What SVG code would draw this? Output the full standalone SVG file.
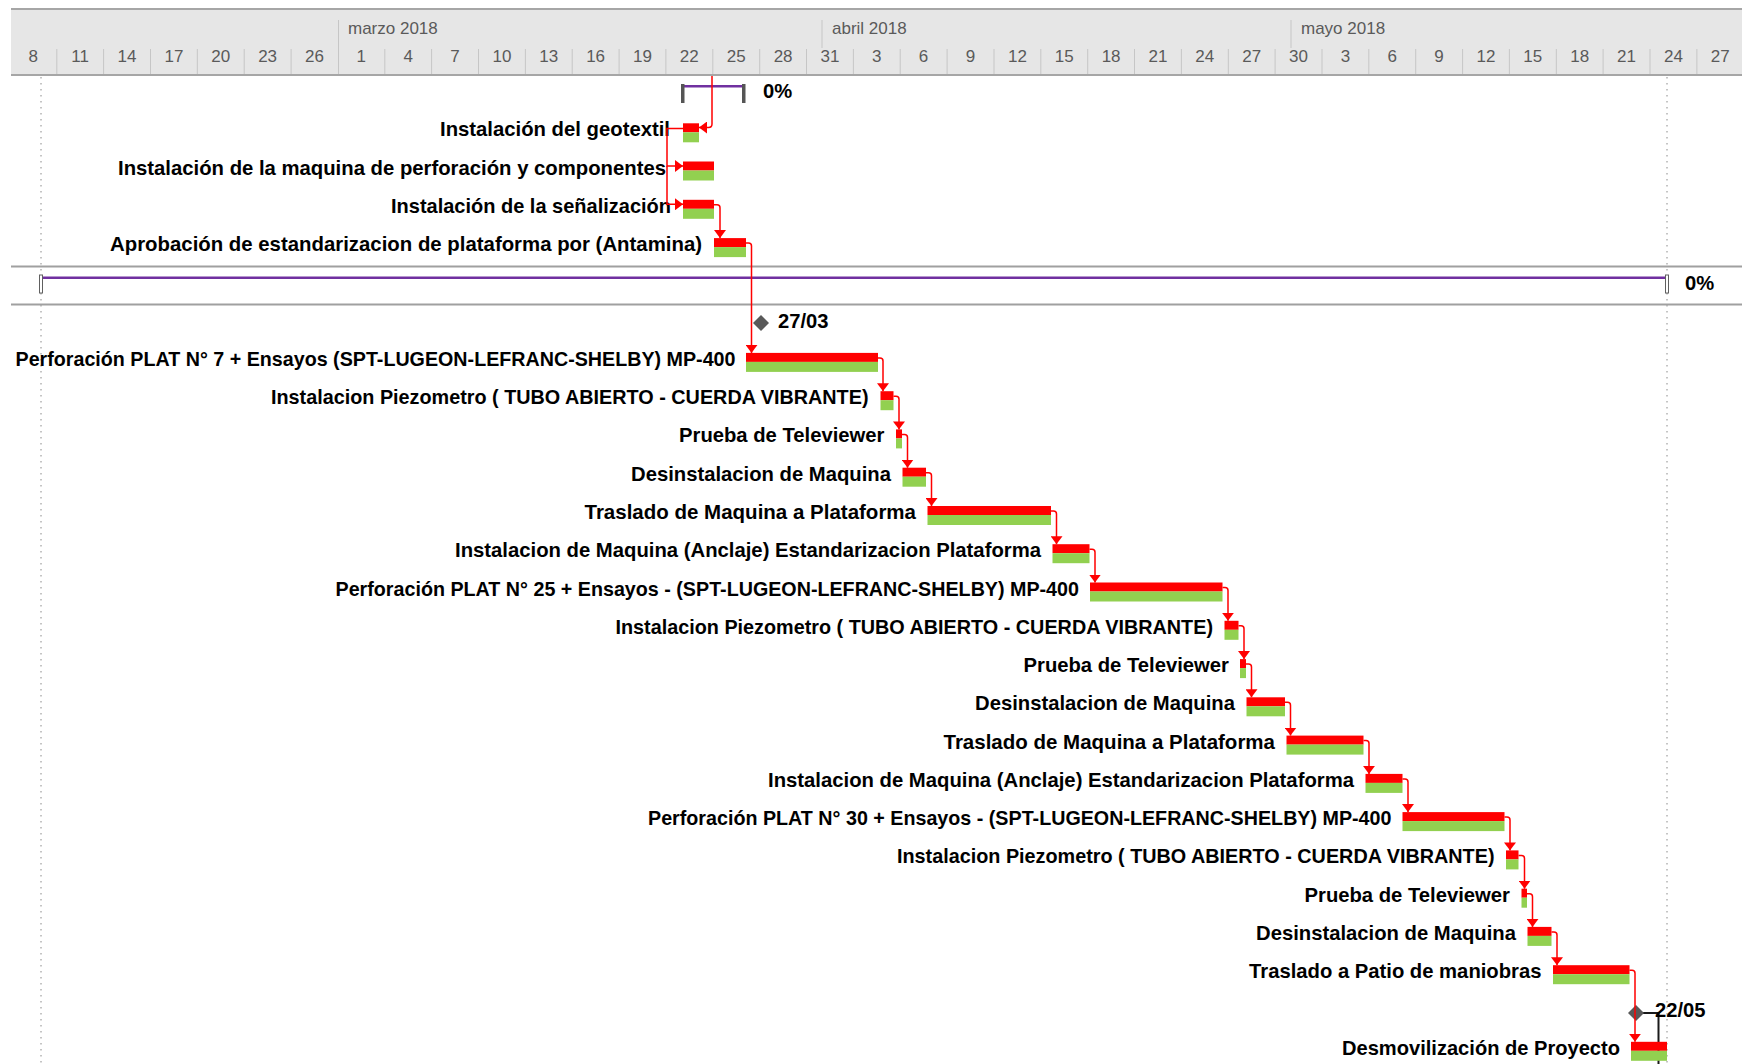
<svg xmlns="http://www.w3.org/2000/svg" width="1742" height="1064" viewBox="0 0 1742 1064">
  <style>
    .hdr-bg { fill: #e6e6e6; }
    .hdr-line { stroke: #a6a6a6; stroke-width: 2; }
    .tick { stroke: #c6c6c6; stroke-width: 1; }
    .hdr-txt { font-family: "Liberation Sans", Arial, sans-serif; font-size: 17px; fill: #5a5a5a; }
    .day { text-anchor: middle; }
    .grid { stroke: #8a8a8a; stroke-width: 1; stroke-dasharray: 1.5 4.5; }
    .sep { stroke: #a0a0a0; stroke-width: 2; }
    .lbl { font-family: "Liberation Sans", Arial, sans-serif; font-size: 20.2px; font-weight: bold; fill: #000; text-anchor: end; }
    .lbl-s { font-family: "Liberation Sans", Arial, sans-serif; font-size: 20.2px; font-weight: bold; fill: #000; }
    .br { fill: #ff0000; }
    .bg { fill: #92d050; }
    .sum { fill: #7030a0; }
    .cap { fill: #555555; }
    .cap-o { fill: #ffffff; stroke: #606060; stroke-width: 1; }
    .ms { fill: #595959; }
    .link { fill: none; stroke: #ff0000; stroke-width: 1.5; }
  </style>
  <defs>
    <marker id="ah" viewBox="0 -6 8 12" refX="8" refY="0" markerWidth="8" markerHeight="12" markerUnits="userSpaceOnUse" orient="auto">
      <path d="M0,-6 L8,0 L0,6 z" fill="#ff0000"/>
    </marker>
  </defs>

  <rect width="1742" height="1064" fill="#ffffff"/>

  <!-- timescale -->
  <g id="timescale">
    <rect class="hdr-bg" x="11" y="9" width="1731" height="66"/>
    <line class="hdr-line" x1="11" y1="9" x2="1742" y2="9"/>
    <line class="hdr-line" x1="11" y1="75" x2="1742" y2="75"/>
    <g class="tick">
      <line x1="338.5" y1="20" x2="338.5" y2="74"/>
      <line x1="822" y1="20" x2="822" y2="48"/>
      <line x1="1291" y1="20" x2="1291" y2="48"/>
      <line x1="56.8" y1="49" x2="56.8" y2="74"/>
      <line x1="103.6" y1="49" x2="103.6" y2="74"/>
      <line x1="150.5" y1="49" x2="150.5" y2="74"/>
      <line x1="197.3" y1="49" x2="197.3" y2="74"/>
      <line x1="244.2" y1="49" x2="244.2" y2="74"/>
      <line x1="291.1" y1="49" x2="291.1" y2="74"/>
      <line x1="384.8" y1="49" x2="384.8" y2="74"/>
      <line x1="431.6" y1="49" x2="431.6" y2="74"/>
      <line x1="478.5" y1="49" x2="478.5" y2="74"/>
      <line x1="525.4" y1="49" x2="525.4" y2="74"/>
      <line x1="572.2" y1="49" x2="572.2" y2="74"/>
      <line x1="619.1" y1="49" x2="619.1" y2="74"/>
      <line x1="665.9" y1="49" x2="665.9" y2="74"/>
      <line x1="712.8" y1="49" x2="712.8" y2="74"/>
      <line x1="759.7" y1="49" x2="759.7" y2="74"/>
      <line x1="806.5" y1="49" x2="806.5" y2="74"/>
      <line x1="853.4" y1="49" x2="853.4" y2="74"/>
      <line x1="900.2" y1="49" x2="900.2" y2="74"/>
      <line x1="947.1" y1="49" x2="947.1" y2="74"/>
      <line x1="994" y1="49" x2="994" y2="74"/>
      <line x1="1040.8" y1="49" x2="1040.8" y2="74"/>
      <line x1="1087.7" y1="49" x2="1087.7" y2="74"/>
      <line x1="1134.5" y1="49" x2="1134.5" y2="74"/>
      <line x1="1181.4" y1="49" x2="1181.4" y2="74"/>
      <line x1="1228.3" y1="49" x2="1228.3" y2="74"/>
      <line x1="1275.1" y1="49" x2="1275.1" y2="74"/>
      <line x1="1322" y1="49" x2="1322" y2="74"/>
      <line x1="1368.8" y1="49" x2="1368.8" y2="74"/>
      <line x1="1415.7" y1="49" x2="1415.7" y2="74"/>
      <line x1="1462.6" y1="49" x2="1462.6" y2="74"/>
      <line x1="1509.4" y1="49" x2="1509.4" y2="74"/>
      <line x1="1556.3" y1="49" x2="1556.3" y2="74"/>
      <line x1="1603.1" y1="49" x2="1603.1" y2="74"/>
      <line x1="1650" y1="49" x2="1650" y2="74"/>
      <line x1="1696.9" y1="49" x2="1696.9" y2="74"/>
    </g>
    <g class="hdr-txt">
      <text x="348" y="34">marzo 2018</text>
      <text x="832" y="34">abril 2018</text>
      <text x="1301" y="34">mayo 2018</text>
    </g>
    <g class="hdr-txt day">
      <text x="33.3" y="62">8</text>
      <text x="80.2" y="62">11</text>
      <text x="127" y="62">14</text>
      <text x="173.9" y="62">17</text>
      <text x="220.7" y="62">20</text>
      <text x="267.6" y="62">23</text>
      <text x="314.5" y="62">26</text>
      <text x="361.3" y="62">1</text>
      <text x="408.2" y="62">4</text>
      <text x="455" y="62">7</text>
      <text x="501.9" y="62">10</text>
      <text x="548.8" y="62">13</text>
      <text x="595.6" y="62">16</text>
      <text x="642.5" y="62">19</text>
      <text x="689.3" y="62">22</text>
      <text x="736.2" y="62">25</text>
      <text x="783.1" y="62">28</text>
      <text x="829.9" y="62">31</text>
      <text x="876.8" y="62">3</text>
      <text x="923.6" y="62">6</text>
      <text x="970.5" y="62">9</text>
      <text x="1017.4" y="62">12</text>
      <text x="1064.2" y="62">15</text>
      <text x="1111.1" y="62">18</text>
      <text x="1157.9" y="62">21</text>
      <text x="1204.8" y="62">24</text>
      <text x="1251.7" y="62">27</text>
      <text x="1298.5" y="62">30</text>
      <text x="1345.4" y="62">3</text>
      <text x="1392.2" y="62">6</text>
      <text x="1439.1" y="62">9</text>
      <text x="1486" y="62">12</text>
      <text x="1532.8" y="62">15</text>
      <text x="1579.7" y="62">18</text>
      <text x="1626.5" y="62">21</text>
      <text x="1673.4" y="62">24</text>
      <text x="1720.3" y="62">27</text>
    </g>
  </g>

  <!-- project start / finish gridlines and summary row separators -->
  <g id="gridlines">
    <line class="grid" x1="41" y1="77" x2="41" y2="1064"/>
    <line class="grid" x1="1667" y1="77" x2="1667" y2="1064"/>
    <line class="sep" x1="11" y1="266.5" x2="1742" y2="266.5"/>
    <line class="sep" x1="11" y1="304.5" x2="1742" y2="304.5"/>
  </g>

  <!-- summary tasks -->
  <g id="s00">
    <rect class="sum" x="682" y="85" width="63" height="2.5"/>
    <rect class="cap" x="681" y="84" width="3.5" height="19"/>
    <rect class="cap" x="742" y="84" width="3.5" height="19"/>
    <text class="lbl-s" x="763" y="98">0%</text>
  </g>
  <g id="s05">
    <rect class="sum" x="41" y="276.5" width="1626" height="2.5"/>
    <rect class="cap-o" x="39.5" y="275" width="3" height="18"/>
    <rect class="cap-o" x="1665.5" y="275" width="3" height="18"/>
    <text class="lbl-s" x="1685" y="290">0%</text>
  </g>

  <!-- tasks -->
  <g id="t01">
    <text class="lbl" x="670" y="136.3" textLength="230" lengthAdjust="spacingAndGlyphs">Instalación del geotextil</text>
    <rect class="br" x="683" y="123.3" width="16" height="9"/>
    <rect class="bg" x="683" y="132.3" width="16" height="10"/>
  </g>
  <g id="t02">
    <text class="lbl" x="666" y="174.5" textLength="548" lengthAdjust="spacingAndGlyphs">Instalación de la maquina de perforación y componentes</text>
    <rect class="br" x="683" y="161.5" width="31" height="9"/>
    <rect class="bg" x="683" y="170.5" width="31" height="10"/>
  </g>
  <g id="t03">
    <text class="lbl" x="671" y="212.8" textLength="280" lengthAdjust="spacingAndGlyphs">Instalación de la señalización</text>
    <rect class="br" x="683" y="199.8" width="31" height="9"/>
    <rect class="bg" x="683" y="208.8" width="31" height="10"/>
  </g>
  <g id="t04">
    <text class="lbl" x="702" y="251.1" textLength="592" lengthAdjust="spacingAndGlyphs">Aprobación de estandarizacion de plataforma por (Antamina)</text>
    <rect class="br" x="714" y="238.1" width="32" height="9"/>
    <rect class="bg" x="714" y="247.1" width="32" height="10"/>
  </g>
  <g id="m06">
    <path class="ms" d="M761,315 L769,323 L761,331 L753,323 z"/>
    <text class="lbl-s" x="778" y="327.6">27/03</text>
  </g>
  <g id="t07">
    <text class="lbl" x="735.5" y="365.9" textLength="720" lengthAdjust="spacingAndGlyphs">Perforación PLAT N° 7 + Ensayos (SPT-LUGEON-LEFRANC-SHELBY) MP-400</text>
    <rect class="br" x="746" y="352.9" width="132" height="9"/>
    <rect class="bg" x="746" y="361.9" width="132" height="10"/>
  </g>
  <g id="t08">
    <text class="lbl" x="868.5" y="404.2" textLength="597.5" lengthAdjust="spacingAndGlyphs">Instalacion Piezometro ( TUBO ABIERTO - CUERDA VIBRANTE)</text>
    <rect class="br" x="880.5" y="391.2" width="13" height="9"/>
    <rect class="bg" x="880.5" y="400.2" width="13" height="10"/>
  </g>
  <g id="t09">
    <text class="lbl" x="884.5" y="442.4" textLength="205.5" lengthAdjust="spacingAndGlyphs">Prueba de Televiewer</text>
    <rect class="br" x="896" y="429.4" width="6" height="9"/>
    <rect class="bg" x="896" y="438.4" width="6" height="10"/>
  </g>
  <g id="t10">
    <text class="lbl" x="891" y="480.7" textLength="260" lengthAdjust="spacingAndGlyphs">Desinstalacion de Maquina</text>
    <rect class="br" x="902.5" y="467.7" width="23.5" height="9"/>
    <rect class="bg" x="902.5" y="476.7" width="23.5" height="10"/>
  </g>
  <g id="t11">
    <text class="lbl" x="916" y="519" textLength="331.5" lengthAdjust="spacingAndGlyphs">Traslado de Maquina a Plataforma</text>
    <rect class="br" x="927.5" y="506" width="123.5" height="9"/>
    <rect class="bg" x="927.5" y="515" width="123.5" height="10"/>
  </g>
  <g id="t12">
    <text class="lbl" x="1041" y="557.2" textLength="586" lengthAdjust="spacingAndGlyphs">Instalacion de Maquina (Anclaje) Estandarizacion Plataforma</text>
    <rect class="br" x="1052.5" y="544.2" width="37" height="9"/>
    <rect class="bg" x="1052.5" y="553.2" width="37" height="10"/>
  </g>
  <g id="t13">
    <text class="lbl" x="1079" y="595.5" textLength="743.5" lengthAdjust="spacingAndGlyphs">Perforación PLAT N° 25 + Ensayos - (SPT-LUGEON-LEFRANC-SHELBY) MP-400</text>
    <rect class="br" x="1090" y="582.5" width="132.5" height="9"/>
    <rect class="bg" x="1090" y="591.5" width="132.5" height="10"/>
  </g>
  <g id="t14">
    <text class="lbl" x="1213" y="633.8" textLength="597.5" lengthAdjust="spacingAndGlyphs">Instalacion Piezometro ( TUBO ABIERTO - CUERDA VIBRANTE)</text>
    <rect class="br" x="1224.5" y="620.8" width="14" height="9"/>
    <rect class="bg" x="1224.5" y="629.8" width="14" height="10"/>
  </g>
  <g id="t15">
    <text class="lbl" x="1229" y="672.1" textLength="205.5" lengthAdjust="spacingAndGlyphs">Prueba de Televiewer</text>
    <rect class="br" x="1240" y="659.1" width="6" height="9"/>
    <rect class="bg" x="1240" y="668.1" width="6" height="10"/>
  </g>
  <g id="t16">
    <text class="lbl" x="1235" y="710.3" textLength="260" lengthAdjust="spacingAndGlyphs">Desinstalacion de Maquina</text>
    <rect class="br" x="1246.5" y="697.3" width="38.5" height="9"/>
    <rect class="bg" x="1246.5" y="706.3" width="38.5" height="10"/>
  </g>
  <g id="t17">
    <text class="lbl" x="1275" y="748.6" textLength="331.5" lengthAdjust="spacingAndGlyphs">Traslado de Maquina a Plataforma</text>
    <rect class="br" x="1286.5" y="735.6" width="77" height="9"/>
    <rect class="bg" x="1286.5" y="744.6" width="77" height="10"/>
  </g>
  <g id="t18">
    <text class="lbl" x="1354" y="786.9" textLength="586" lengthAdjust="spacingAndGlyphs">Instalacion de Maquina (Anclaje) Estandarizacion Plataforma</text>
    <rect class="br" x="1365.5" y="773.9" width="37" height="9"/>
    <rect class="bg" x="1365.5" y="782.9" width="37" height="10"/>
  </g>
  <g id="t19">
    <text class="lbl" x="1391.5" y="825.1" textLength="743.5" lengthAdjust="spacingAndGlyphs">Perforación PLAT N° 30 + Ensayos - (SPT-LUGEON-LEFRANC-SHELBY) MP-400</text>
    <rect class="br" x="1402.5" y="812.1" width="102" height="9"/>
    <rect class="bg" x="1402.5" y="821.1" width="102" height="10"/>
  </g>
  <g id="t20">
    <text class="lbl" x="1494.5" y="863.4" textLength="597.5" lengthAdjust="spacingAndGlyphs">Instalacion Piezometro ( TUBO ABIERTO - CUERDA VIBRANTE)</text>
    <rect class="br" x="1506" y="850.4" width="12.5" height="9"/>
    <rect class="bg" x="1506" y="859.4" width="12.5" height="10"/>
  </g>
  <g id="t21">
    <text class="lbl" x="1510" y="901.7" textLength="205.5" lengthAdjust="spacingAndGlyphs">Prueba de Televiewer</text>
    <rect class="br" x="1521.5" y="888.7" width="5.5" height="9"/>
    <rect class="bg" x="1521.5" y="897.7" width="5.5" height="10"/>
  </g>
  <g id="t22">
    <text class="lbl" x="1516" y="939.9" textLength="260" lengthAdjust="spacingAndGlyphs">Desinstalacion de Maquina</text>
    <rect class="br" x="1527.5" y="926.9" width="24" height="9"/>
    <rect class="bg" x="1527.5" y="935.9" width="24" height="10"/>
  </g>
  <g id="t23">
    <text class="lbl" x="1541.5" y="978.2" textLength="292.5" lengthAdjust="spacingAndGlyphs">Traslado a Patio de maniobras</text>
    <rect class="br" x="1553" y="965.2" width="76.5" height="9"/>
    <rect class="bg" x="1553" y="974.2" width="76.5" height="10"/>
  </g>
  <g id="m24">
    <path fill="none" stroke="#1a1a1a" stroke-width="2" d="M1636,1013 H1658.5 V1064"/>
    <path class="ms" d="M1636,1005 L1644,1013 L1636,1021 L1628,1013 z"/>
    <text class="lbl-s" x="1655" y="1016.5">22/05</text>
  </g>
  <g id="t25">
    <text class="lbl" x="1620" y="1054.8" textLength="278" lengthAdjust="spacingAndGlyphs">Desmovilización de Proyecto</text>
    <rect class="br" x="1631" y="1041.8" width="36" height="9"/>
    <rect class="bg" x="1631" y="1050.8" width="36" height="10"/>
  </g>

  <!-- dependency links -->
  <g id="links" class="link" marker-end="url(#ah)">
    <path d="M712,76 V124 Q712,127.5 708.5,127.5 H699"/>
    <path d="M683,128.5 H667 V166 H683"/>
    <path d="M667,166 V204.3 H683"/>
    <path d="M714,204.8 H717 Q720,204.8 720,207.8 V238.1"/>
    <path d="M746,243.1 H748.5 Q751.5,243.1 751.5,246.1 V352.9"/>
    <path d="M878,357.9 H880 Q883,357.9 883,360.9 V391.2"/>
    <path d="M893.5,396.2 H896 Q899,396.2 899,399.2 V429.4"/>
    <path d="M902,434.4 H904.5 Q907.5,434.4 907.5,437.4 V467.7"/>
    <path d="M926,472.7 H928.5 Q931.5,472.7 931.5,475.7 V506"/>
    <path d="M1051,511 H1053.5 Q1056.5,511 1056.5,514 V544.2"/>
    <path d="M1089.5,549.2 H1092 Q1095,549.2 1095,552.2 V582.5"/>
    <path d="M1222.5,587.5 H1225 Q1228,587.5 1228,590.5 V620.8"/>
    <path d="M1238.5,625.8 H1241 Q1244,625.8 1244,628.8 V659.1"/>
    <path d="M1246,664.1 H1248.5 Q1251.5,664.1 1251.5,667.1 V697.3"/>
    <path d="M1285,702.3 H1287.5 Q1290.5,702.3 1290.5,705.3 V735.6"/>
    <path d="M1363.5,740.6 H1366 Q1369,740.6 1369,743.6 V773.9"/>
    <path d="M1402.5,778.9 H1405 Q1408,778.9 1408,781.9 V812.1"/>
    <path d="M1504.5,817.1 H1507 Q1510,817.1 1510,820.1 V850.4"/>
    <path d="M1518.5,855.4 H1521.5 Q1524.5,855.4 1524.5,858.4 V888.7"/>
    <path d="M1527,893.7 H1529.5 Q1532.5,893.7 1532.5,896.7 V926.9"/>
    <path d="M1551.5,931.9 H1554 Q1557,931.9 1557,934.9 V965.2"/>
    <path d="M1629.5,970.2 H1632 Q1635,970.2 1635,973.2 V1041.8"/>
  </g>
</svg>
